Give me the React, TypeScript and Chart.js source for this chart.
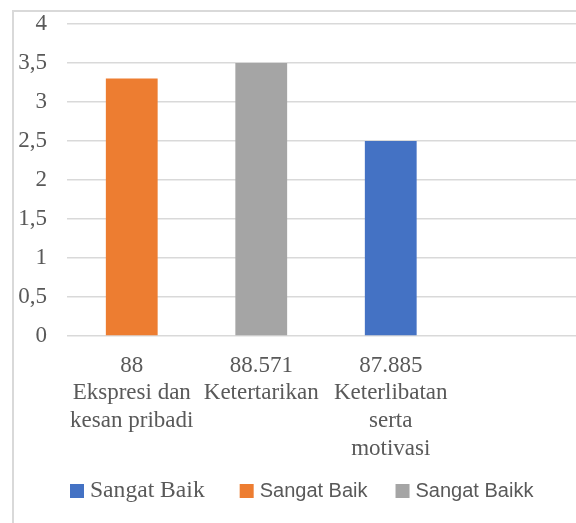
import React, { useEffect, useRef } from "react";
import { Chart, registerables } from "chart.js";

Chart.register(...registerables);

const categories: (string | string[])[] = [
  ["88", "Ekspresi dan", "kesan pribadi"],
  ["88.571", "Ketertarikan"],
  ["87.885", "Keterlibatan", "serta", "motivasi"],
  "",
];
const seriesNames = ["Sangat Baik", "Sangat Baik", "Sangat Baikk"];
const blueValues = [null, null, 2.5, null];
const orangeValues = [3.3, null, null, null];
const grayValues = [null, 3.5, null, null];
const yMin = 0;
const yMax = 4;
const yStep = 0.5;

const SERIF = "'Liberation Serif', 'Times New Roman', serif";
const SANS = "'Liberation Sans', Arial, sans-serif";

const customLegend = {
  id: "customLegend",
  afterDraw(chart: any, _args: any, opts: any) {
    const ctx = chart.ctx;
    const ds = chart.data.datasets;
    const box = opts.boxSize;
    const items = ds.map((d: any, i: number) => {
      const font = `${opts.sizes[i]}px ${opts.fonts[i]}`;
      ctx.save();
      ctx.font = font;
      const w = ctx.measureText(d.label).width;
      ctx.restore();
      return { label: d.label, color: d.backgroundColor, font, w };
    });
    let x = opts.startX;
    ctx.save();
    ctx.textBaseline = "middle";
    ctx.textAlign = "left";
    items.forEach((it: any, i: number) => {
      ctx.fillStyle = it.color;
      ctx.fillRect(x, opts.y - box / 2, box, box);
      x += box + opts.textGap;
      ctx.font = it.font;
      ctx.fillStyle = opts.color;
      ctx.fillText(it.label, x, opts.y);
      x += it.w + (opts.itemGaps[i] || 0);
    });
    ctx.restore();
  },
};

export default function App() {
  const ref = useRef<HTMLCanvasElement | null>(null);
  useEffect(() => {
    if (!ref.current) return;
    const chart = new Chart(ref.current, {
      type: "bar",
      data: {
        labels: categories,
        datasets: [
          { label: seriesNames[0], data: blueValues, backgroundColor: "#4472C4" },
          { label: seriesNames[1], data: orangeValues, backgroundColor: "#ED7D31" },
          { label: seriesNames[2], data: grayValues, backgroundColor: "#A5A5A5" },
        ],
      },
      options: {
        animation: false,
        responsive: false,
        devicePixelRatio: 1,
        layout: { padding: { top: 24, left: 0, right: 25, bottom: 47 } },
        datasets: { bar: { barPercentage: 0.4, categoryPercentage: 1 } },
        plugins: {
          legend: { display: false },
          tooltip: { enabled: false },
          customLegend: {
            boxSize: 14,
            textGap: 6,
            itemGaps: [35, 28],
            startX: 70,
            y: 491,
            sizes: [23.6, 20, 20],
            fonts: [SERIF, SANS, SANS],
            color: "#595959",
          },
        } as any,
        scales: {
          x: {
            stacked: true,
            grid: { display: false, drawTicks: false },
            border: { display: false },
            ticks: {
              color: "#595959",
              font: { family: SERIF, size: 23, lineHeight: 1.2 },
              padding: 16,
              maxRotation: 0,
              autoSkip: false,
            },
            afterFit: (s: any) => {
              s.height = 140;
            },
          },
          y: {
            stacked: true,
            min: yMin,
            max: yMax,
            grid: { color: "#d9d9d9", lineWidth: 1.5, drawTicks: false },
            border: { display: false },
            ticks: {
              stepSize: yStep,
              color: "#595959",
              font: { family: SERIF, size: 23 },
              padding: 20,
              callback: (v: any) => String(v).replace(".", ","),
            },
            afterFit: (s: any) => {
              s.width = 67;
              s.paddingTop = 0;
              s.paddingBottom = 0;
            },
          },
        },
      },
      plugins: [customLegend],
    });
    return () => chart.destroy();
  }, []);

  return (
    <div
      style={{
        position: "fixed",
        left: 0,
        top: 0,
        width: 576,
        height: 523,
        overflow: "hidden",
        background: "#fff",
      }}
    >
      <div
        style={{
          position: "absolute",
          left: 12,
          top: 10,
          width: 700,
          height: 700,
          border: "2px solid #d9d9d9",
          boxSizing: "border-box",
        }}
      />
      <canvas
        ref={ref}
        width={610}
        height={523}
        style={{ position: "absolute", left: 0, top: 0, width: 610, height: 523 }}
      />
    </div>
  );
}
